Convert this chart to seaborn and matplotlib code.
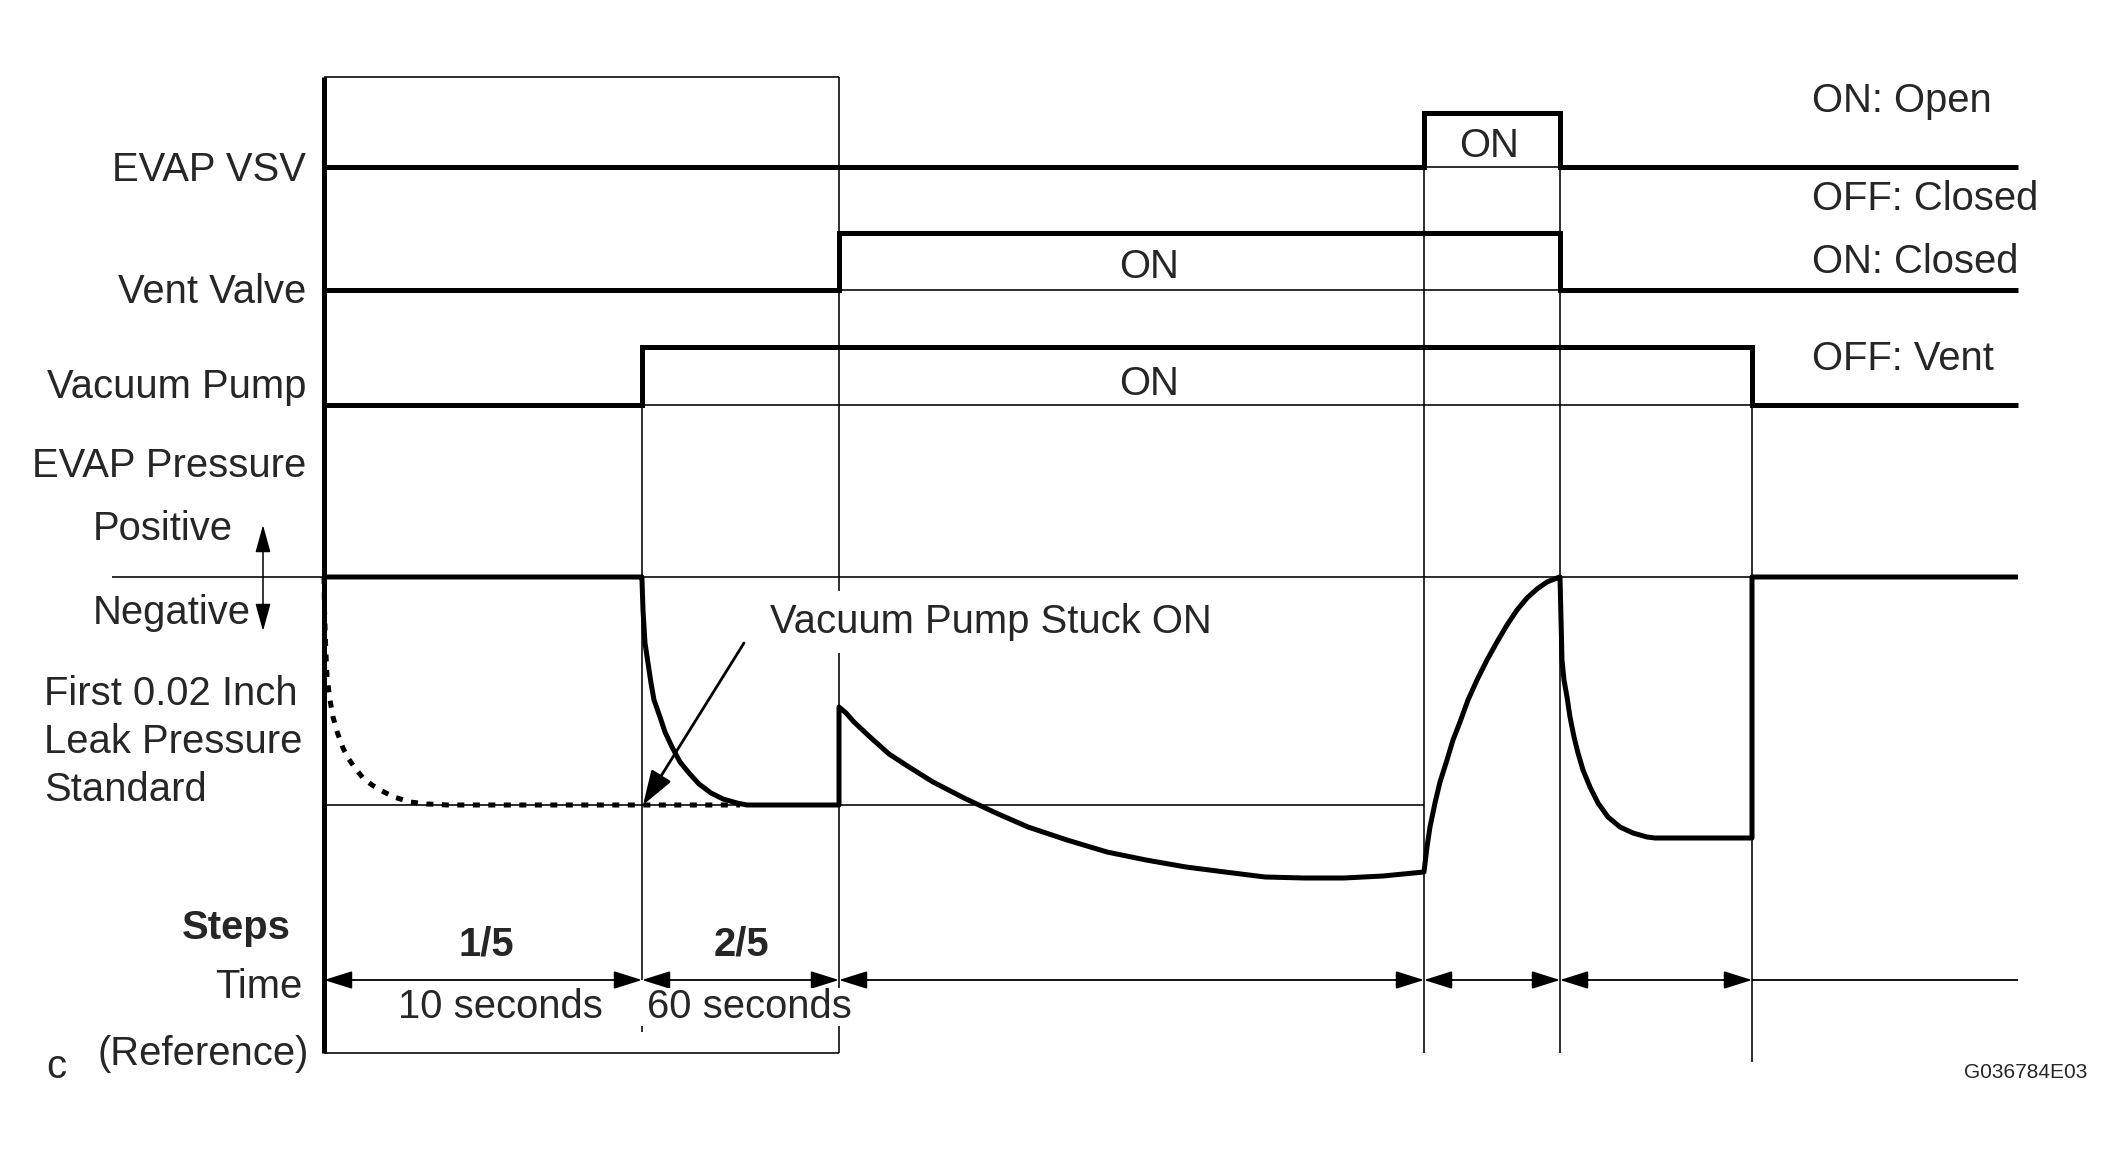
import numpy as np
import pandas as pd
import matplotlib
matplotlib.use('Agg')
import matplotlib.pyplot as plt
import seaborn as sns

# ==== data (diagram units, y grows downwards) ====
# positions of the switching events along the time axis
event_x = [324, 642, 839, 1424, 1560, 1752, 2018]

# on/off state of each signal in every interval between events
vsv_states = [0, 0, 0, 1, 0, 0]
vent_states = [0, 0, 1, 1, 0, 0]
pump_states = [0, 1, 1, 1, 1, 0]

# (off level, on level) for each row
vsv_levels = (167, 113)
vent_levels = (290, 233)
pump_levels = (405, 347)

press_zero = 577       # positive / negative border
press_standard = 805   # first 0.02 inch leak pressure standard
frame_top = 77
frame_bottom = 1053
time_row = 980

# EVAP pressure trace
press_x = [324, 642,
           642, 643, 645, 648, 651, 654, 660, 665, 672, 680, 689, 699, 711, 723, 737, 747, 839,
           839, 846, 854, 870, 889, 909, 933, 964, 996, 1028, 1067, 1107, 1146, 1186,
           1225, 1265, 1304, 1344, 1383, 1424,
           1427, 1430, 1435, 1440, 1447, 1453, 1460, 1468, 1477, 1487, 1497, 1507,
           1517, 1527, 1537, 1547, 1557, 1560,
           1560, 1562, 1564, 1567, 1570, 1574, 1578, 1583, 1590, 1598, 1608, 1620,
           1633, 1647, 1655, 1752, 1752, 2018]
press_y = [577, 577,
           580, 610, 643, 663, 683, 700, 717, 732, 747, 762, 773, 784, 793, 799, 803, 805, 805,
           707, 713, 722, 737, 754, 767, 782, 798, 813, 827, 840, 852, 860, 867,
           872, 877, 878, 878, 876, 872,
           847, 827, 803, 782, 760, 740, 722, 700, 680, 660, 642, 625,
           610, 598, 589, 582, 578, 577,
           577, 660, 680, 697, 717, 737, 753, 770, 787, 803, 817, 827,
           833, 837, 838, 838, 577, 577]

# vacuum pump stuck ON case (dotted)
stuck_x = [324, 324.5, 325.5, 327, 330, 333, 337.5, 343, 348, 355, 363, 372, 382, 394,
           410, 427, 448, 740]
stuck_y = [577, 610, 643, 677, 700, 717, 733, 748, 758, 768, 778, 785, 791, 797,
           802, 804, 805, 805]

row_labels = ['EVAP VSV', 'Vent Valve', 'Vacuum Pump', 'EVAP Pressure']
state_labels = ['ON: Open', 'OFF: Closed', 'ON: Closed', 'OFF: Vent']
step_labels = ['1/5', '2/5']
time_labels = ['10 seconds', '60 seconds']


def step_trace(edges, states, levels):
    xs, ys = [], []
    for i, s in enumerate(states):
        y = levels[1] if s else levels[0]
        xs += [edges[i], edges[i + 1]]
        ys += [y, y]
    return xs, ys


sns.set_theme(style='white')
plt.rcParams['font.family'] = ['Liberation Sans', 'DejaVu Sans']

fig = plt.figure(figsize=(21.24, 11.56), dpi=100)
ax = fig.add_axes([0, 0, 1, 1])

THICK = 3.6
THIN = 1.15
FS = 28.8

# thin guide lines
ax.hlines(frame_top, event_x[0], event_x[2], color='black', lw=THIN)
ax.hlines(frame_bottom, event_x[0], event_x[2], color='black', lw=THIN)
ax.vlines(event_x[2], frame_top, frame_bottom, color='black', lw=THIN)
ax.vlines(event_x[1], pump_levels[1], time_row, color='black', lw=THIN)
ax.vlines(event_x[1], 1026, 1032, color='black', lw=THIN)
ax.vlines([event_x[3], event_x[4]], vsv_levels[1], frame_bottom, color='black', lw=THIN)
ax.vlines(event_x[5], pump_levels[1], 1062, color='black', lw=THIN)
ax.hlines(vsv_levels[0], event_x[3], event_x[4], color='black', lw=THIN)
ax.hlines(vent_levels[0], event_x[2], event_x[4], color='black', lw=THIN)
ax.hlines(pump_levels[0], event_x[1], event_x[5], color='black', lw=THIN)
ax.hlines(press_zero, 112, event_x[-1], color='black', lw=THIN)
ax.hlines(press_standard, event_x[0], event_x[3], color='black', lw=THIN)

# left axis
ax.vlines(event_x[0], frame_top, frame_bottom, color='black', lw=THICK)

# digital signals
for states, levels in [(vsv_states, vsv_levels), (vent_states, vent_levels),
                       (pump_states, pump_levels)]:
    xs, ys = step_trace(event_x, states, levels)
    sns.lineplot(x=xs, y=ys, sort=False, estimator=None, color='black', lw=THICK,
                 ax=ax, solid_joinstyle='miter', solid_capstyle='butt')

# pressure
sns.lineplot(x=press_x, y=press_y, sort=False, estimator=None, color='black',
             lw=THICK, ax=ax, solid_joinstyle='round', solid_capstyle='butt')
ax.plot(stuck_x, stuck_y, color='black', lw=3.6, dashes=(1.4, 1.7),
        dash_capstyle='butt')

# time arrows
for a, b in zip(event_x[:-2], event_x[1:-1]):
    ax.annotate('', xy=(b, time_row), xytext=(a, time_row),
                arrowprops=dict(arrowstyle='<|-|>,head_length=1.75,head_width=0.55',
                                mutation_scale=10, lw=1.3, color='black',
                                shrinkA=0, shrinkB=0))
ax.hlines(time_row, event_x[-2], event_x[-1], color='black', lw=1.3)

# positive / negative arrow
ax.annotate('', xy=(263, 525), xytext=(263, 631),
            arrowprops=dict(arrowstyle='<|-|>,head_length=1.7,head_width=0.47',
                            mutation_scale=10, lw=1.1, color='black',
                            shrinkA=0, shrinkB=0))

# stuck ON pointer
ax.annotate('', xy=(643, press_standard), xytext=(744, 643),
            arrowprops=dict(arrowstyle='-|>,head_length=2.1,head_width=0.7',
                            mutation_scale=10, lw=2.0, color='black',
                            shrinkA=0, shrinkB=0))

# texts
for lab, yb in zip(row_labels, [181, 303, 398, 477]):
    ax.text(306, yb, lab, ha='right', va='baseline', fontsize=FS)
ax.text(93, 540, 'Positive', ha='left', va='baseline', fontsize=FS)
ax.text(93, 624, 'Negative', ha='left', va='baseline', fontsize=FS)
for lab, yb in zip(['First 0.02 Inch', 'Leak Pressure', 'Standard'], [705, 753, 801]):
    ax.text(44, yb, lab, ha='left', va='baseline', fontsize=FS)
ax.text(291, 939, 'Steps', ha='right', va='baseline', fontsize=FS, fontweight='bold')
ax.text(302, 998, 'Time', ha='right', va='baseline', fontsize=FS)
ax.text(309, 1065, '(Reference)', ha='right', va='baseline', fontsize=FS)
ax.text(46, 1078, 'c', ha='left', va='baseline', fontsize=FS)

for lab, yb in zip(state_labels, [112, 210, 273, 370]):
    ax.text(1812, yb, lab, ha='left', va='baseline', fontsize=FS)

ax.text(1489, 157, 'ON', ha='center', va='baseline', fontsize=FS)
ax.text(1149, 278, 'ON', ha='center', va='baseline', fontsize=FS)
ax.text(1149, 395, 'ON', ha='center', va='baseline', fontsize=FS)

ax.text(770, 633, 'Vacuum Pump Stuck ON', ha='left', va='baseline', fontsize=FS,
        bbox=dict(fc='white', ec='none', pad=9), zorder=5)

for lab, xc in zip(step_labels, [486, 741]):
    ax.text(xc, 955, lab, ha='center', va='baseline', fontsize=FS, fontweight='bold')
ax.text(500, 1018, time_labels[0], ha='center', va='baseline', fontsize=FS)
ax.text(749, 1018, time_labels[1], ha='center', va='baseline', fontsize=FS,
        bbox=dict(fc='white', ec='none', pad=0), zorder=5)

ax.text(2087, 1078, 'G036784E03', ha='right', va='baseline', fontsize=15)

ax.set_xlim(0, 2124)
ax.set_ylim(1156, 0)
ax.axis('off')

fig.savefig('out.png', dpi=100, facecolor='white')
